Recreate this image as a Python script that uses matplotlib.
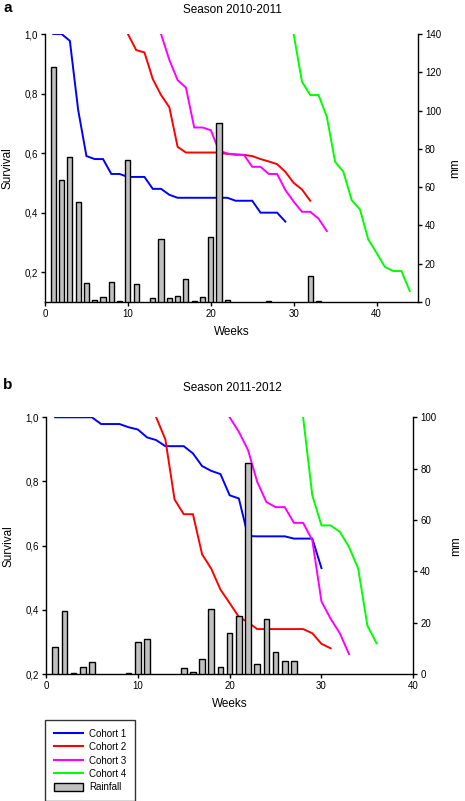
import matplotlib
matplotlib.use("Agg")
import matplotlib.pyplot as plt
from matplotlib.lines import Line2D
from matplotlib.patches import Patch
from matplotlib.ticker import FuncFormatter

plt.rcParams['font.family'] = ['Liberation Sans', 'DejaVu Sans']

# ---------------- Season 2010-2011 ----------------
a_c1_weeks = list(range(1, 30))
a_c1 = [1.0, 1.0, 0.977, 0.745, 0.59, 0.58, 0.58, 0.53, 0.53, 0.52, 0.52, 0.52,
        0.48, 0.48, 0.46, 0.45, 0.45, 0.45, 0.45, 0.45, 0.45, 0.45, 0.44, 0.44,
        0.44, 0.40, 0.40, 0.40, 0.37]
a_c2_weeks = list(range(10, 33))
a_c2 = [1.0, 0.946, 0.938, 0.849, 0.795, 0.754, 0.621, 0.602, 0.602, 0.602,
        0.602, 0.602, 0.597, 0.596, 0.594, 0.59, 0.58, 0.572, 0.563, 0.537,
        0.50, 0.478, 0.44]
a_c3_weeks = list(range(14, 35))
a_c3 = [1.0, 0.913, 0.845, 0.82, 0.686, 0.686, 0.677, 0.608, 0.599, 0.594,
        0.594, 0.554, 0.554, 0.53, 0.53, 0.476, 0.437, 0.403, 0.403, 0.38, 0.338]
a_c4_weeks = list(range(30, 45))
a_c4 = [1.0, 0.84, 0.795, 0.795, 0.722, 0.571, 0.537, 0.442, 0.411, 0.31,
        0.265, 0.218, 0.204, 0.204, 0.137]
a_rain_weeks = [1, 2, 3, 4, 5, 6, 7, 8, 9, 10, 11, 13, 14, 15, 16, 17, 18, 19,
                20, 21, 22, 27, 32, 33]
a_rain = [123, 63.7, 75.9, 52, 9.8, 1.0, 2.4, 10.6, 0.5, 74, 9.4, 2.0, 33, 2.0,
          3.1, 12, 0.5, 2.8, 34, 93.7, 1.0, 0.3, 13.7, 0.3]

# ---------------- Season 2011-2012 ----------------
b_c1_weeks = list(range(1, 31))
b_c1 = [1.0, 1.0, 1.0, 1.0, 1.0, 0.979, 0.979, 0.979, 0.969, 0.962, 0.9375,
        0.929, 0.91, 0.91, 0.91, 0.8875, 0.848, 0.833, 0.823, 0.757, 0.747,
        0.63, 0.629, 0.629, 0.629, 0.629, 0.622, 0.622, 0.622, 0.53]
b_c2_weeks = list(range(12, 32))
b_c2 = [1.0, 0.931, 0.744, 0.698, 0.698, 0.573, 0.528, 0.463, 0.421, 0.378,
        0.361, 0.34, 0.34, 0.34, 0.34, 0.34, 0.34, 0.327, 0.294, 0.28]
b_c3_weeks = list(range(20, 34))
b_c3 = [1.0, 0.955, 0.898, 0.799, 0.736, 0.72, 0.72, 0.671, 0.671, 0.617,
        0.426, 0.372, 0.327, 0.262]
b_c4_weeks = list(range(28, 37))
b_c4 = [1.0, 0.757, 0.663, 0.663, 0.643, 0.596, 0.528, 0.351, 0.296]
b_rain_weeks = [1, 2, 3, 4, 5, 9, 10, 11, 15, 16, 17, 18, 19, 20, 21, 22, 23,
                24, 25, 26, 27]
b_rain = [10.6, 24.7, 0.3, 2.9, 4.8, 0.5, 12.6, 13.5, 2.5, 0.8, 5.7, 25.5, 2.9,
          16.1, 22.6, 82.3, 3.9, 21.3, 8.7, 5.2, 5.2]

cohort_labels = ["Cohort 1", "Cohort 2", "Cohort 3", "Cohort 4"]
colors = ["#0000ff", "#ff0000", "#ff00ff", "#00ff00"]

W, H = 465, 801
fig = plt.figure(figsize=(W / 100, H / 100), dpi=100)


def frac(x0, y0, x1, y1):
    return [x0 / W, 1 - y1 / H, (x1 - x0) / W, (y1 - y0) / H]


comma = FuncFormatter(lambda v, p: f"{v:.1f}".replace(".", ","))
TICK_FS = 7
LAB_FS = 8.5


def panel(rect, cohorts, rain_w, rain, ylim, yticks, xlim, xticks, rlim, rticks,
          title, letter, title_y, letter_y, mm_pad):
    ax = fig.add_axes(rect)
    for (wk, vals), c in zip(cohorts, colors):
        ax.plot(wk, vals, color=c, lw=1.4, solid_joinstyle='miter')
    ax.set_xlim(*xlim)
    ax.set_ylim(*ylim)
    ax.set_yticks(yticks)
    ax.yaxis.set_major_formatter(comma)
    ax.set_xticks(xticks)
    ax.spines['top'].set_visible(False)
    ax.spines['right'].set_visible(False)
    for s in ('left', 'bottom'):
        ax.spines[s].set_linewidth(1.0)
    ax.tick_params(labelsize=TICK_FS, length=3, width=1.0, direction='out', pad=2)
    ax.set_ylabel("Survival", fontsize=LAB_FS, labelpad=8)
    ax.set_xlabel("Weeks", fontsize=LAB_FS, labelpad=5)

    ax2 = ax.twinx()
    ax2.bar(rain_w, rain, width=0.62, color="#c0c0c0", edgecolor="black",
            linewidth=1.0)
    ax2.set_ylim(*rlim)
    ax2.set_yticks(rticks)
    ax2.set_xlim(*xlim)
    ax2.spines['top'].set_visible(False)
    ax2.spines['left'].set_visible(False)
    ax2.spines['bottom'].set_visible(False)
    ax2.spines['right'].set_linewidth(1.0)
    ax2.tick_params(labelsize=TICK_FS, length=3, width=1.0, direction='out', pad=2)
    ax2.set_ylabel("mm", fontsize=LAB_FS, labelpad=mm_pad)

    fig.text(0.5, 1 - title_y / H, title, ha='center', va='center', fontsize=LAB_FS)
    fig.text(3 / W, 1 - letter_y / H, letter, ha='left', va='center',
             fontsize=11, fontweight='bold')
    return ax, ax2


panel(frac(45, 34, 418, 302),
      [(a_c1_weeks, a_c1), (a_c2_weeks, a_c2), (a_c3_weeks, a_c3), (a_c4_weeks, a_c4)],
      a_rain_weeks, a_rain, (0.1, 1.0), [0.2, 0.4, 0.6, 0.8, 1.0],
      (0, 45), [0, 10, 20, 30, 40], (0, 140), list(range(0, 141, 20)),
      "Season 2010-2011", "a", 10, 8, 6)

panel(frac(46, 417.3, 413.3, 674),
      [(b_c1_weeks, b_c1), (b_c2_weeks, b_c2), (b_c3_weeks, b_c3), (b_c4_weeks, b_c4)],
      b_rain_weeks, b_rain, (0.2, 1.0), [0.2, 0.4, 0.6, 0.8, 1.0],
      (0, 40), [0, 10, 20, 30, 40], (0, 100), list(range(0, 101, 20)),
      "Season 2011-2012", "b", 388, 385, 10)

handles = [Line2D([], [], color=c, lw=1.5) for c in colors]
handles.append(Patch(facecolor="#c0c0c0", edgecolor="black", linewidth=1.0))
labels = cohort_labels + ["Rainfall"]
leg = fig.legend(handles, labels, loc='upper left',
                 bbox_to_anchor=(45 / W, 1 - 720 / H), fontsize=7,
                 frameon=True, fancybox=False, edgecolor='black',
                 handlelength=3.0, handleheight=0.9, labelspacing=0.35,
                 borderpad=0.9, handletextpad=0.6, borderaxespad=0)
leg.get_frame().set_linewidth(1.0)

fig.savefig("out.png", dpi=100)
